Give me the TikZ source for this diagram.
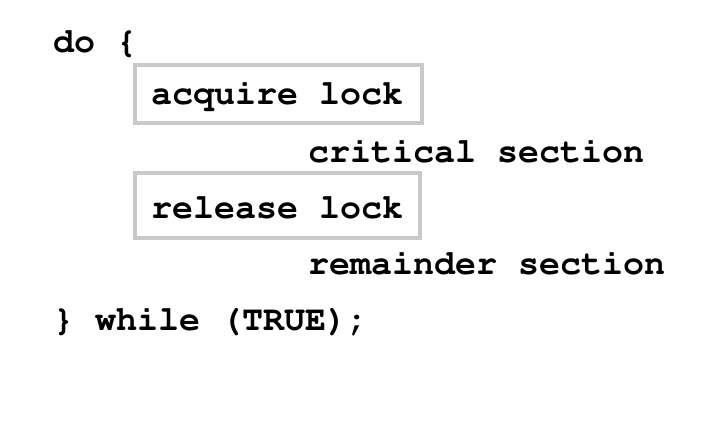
\documentclass[tikz,border=0pt]{standalone}
\usepackage[T1]{fontenc}
\usepackage{courier}
\begin{document}
\begin{tikzpicture}[x=1pt,y=-1pt,
  code/.style={anchor=base west,inner sep=0pt,font=\fontsize{35}{40}\selectfont\ttfamily\bfseries},
  lockbox/.style={draw=black!21,line width=3.5pt}]
\useasboundingbox[fill=white] (0,0) rectangle (727,431);
\node[code] (do) at (53,52) {do \{};
\draw[lockbox] (135,65) rectangle (422,123);
\node[code] (acq) at (151,104) {acquire lock};
\node[code] (cs) at (308,162) {critical section};
\draw[lockbox] (135,173) rectangle (420,238);
\node[code] (rel) at (151,218) {release lock};
\node[code] (rs) at (308,274) {remainder section};
\node[code] (wh) at (53,330) {\} while (TRUE);};
\end{tikzpicture}
\end{document}
